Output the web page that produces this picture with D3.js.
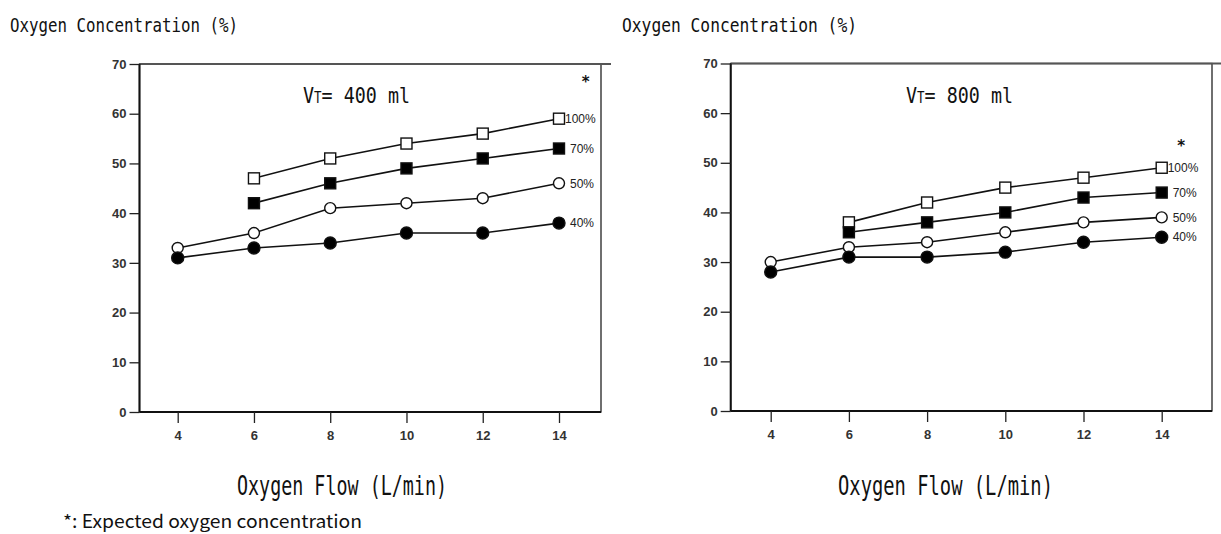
<!DOCTYPE html>
<html>
<head>
<meta charset="utf-8">
<script src="https://d3js.org/d3.v7.min.js"></script>
<style>
  body { margin: 0; background: #fff; }
  svg { display: block; }
</style>
</head>
<body>
<script>
// Chart data
var flows = [4, 6, 8, 10, 12, 14];
var fio2Labels = ["100%", "70%", "50%", "40%"];
var markerKinds = ["openSquare", "filledSquare", "openCircle", "filledCircle"];
var yTicks = [0, 10, 20, 30, 40, 50, 60, 70];

// VT = 400 ml (null = not measured)
var vt400 = [
  [null, 47, 51, 54, 56, 59],
  [null, 42, 46, 49, 51, 53],
  [33, 36, 41, 42, 43, 46],
  [31, 33, 34, 36, 36, 38]
];
// VT = 800 ml
var vt800 = [
  [null, 38, 42, 45, 47, 49],
  [null, 36, 38, 40, 43, 44],
  [30, 33, 34, 36, 38, 39],
  [28, 31, 31, 32, 34, 35]
];
// expected-concentration star marks [flow, %]
var star400 = [14.7, 67];
var star800 = [14.5, 54];

var width = 1221, height = 534;

var svg = d3.select("body").append("svg")
  .attr("width", width)
  .attr("height", height);

var monoFont = "'DejaVu Sans Mono', 'Liberation Mono', monospace";
var tickFont = "'Liberation Sans Narrow', 'Liberation Sans', Arial, sans-serif";

// text squeezed to a given width (the original uses a narrow gothic font)
function fitText(g, x, y, str, size, len, font) {
  return g.append("text")
    .attr("x", x)
    .attr("y", y)
    .attr("font-family", font)
    .attr("font-size", size)
    .attr("textLength", len)
    .attr("lengthAdjust", "spacingAndGlyphs")
    .attr("fill", "#111")
    .text(str);
}

function drawPanel(p) {
  var g = svg.append("g");

  var x = d3.scaleLinear().domain([4, 14]).range([p.x4, p.x14]);
  var y = d3.scaleLinear().domain([0, 70]).range([p.bottom, p.top]);

  // frame
  g.append("rect")
    .attr("x", p.left).attr("y", p.top)
    .attr("width", p.right - p.left).attr("height", p.bottom - p.top)
    .attr("fill", "none").attr("stroke", "#222").attr("stroke-width", 1.3);
  g.append("line")
    .attr("x1", p.left).attr("x2", p.right + 10)
    .attr("y1", p.top).attr("y2", p.top)
    .attr("stroke", "#555").attr("stroke-width", 2.2);
  g.append("line")
    .attr("x1", p.left).attr("x2", p.left)
    .attr("y1", p.top).attr("y2", p.bottom)
    .attr("stroke", "#111").attr("stroke-width", 2);
  g.append("line")
    .attr("x1", p.left).attr("x2", p.right)
    .attr("y1", p.bottom).attr("y2", p.bottom)
    .attr("stroke", "#111").attr("stroke-width", 2);

  // y axis
  var yAxis = d3.axisLeft(y).tickValues(yTicks).tickSize(10).tickPadding(3);
  var ya = g.append("g").attr("transform", "translate(" + p.left + ",0)").call(yAxis);
  ya.select(".domain").remove();
  ya.selectAll(".tick line").attr("stroke", "#222").attr("stroke-width", 1.3);
  ya.selectAll(".tick text")
    .attr("font-family", tickFont).attr("font-size", 13)
    .attr("font-weight", "bold").attr("fill", "#333");

  // x axis
  var xAxis = d3.axisBottom(x).tickValues(flows).tickSize(11).tickPadding(8);
  var xa = g.append("g").attr("transform", "translate(0," + p.bottom + ")").call(xAxis);
  xa.select(".domain").remove();
  xa.selectAll(".tick line").attr("stroke", "#222").attr("stroke-width", 1.3);
  xa.selectAll(".tick text")
    .attr("font-family", tickFont).attr("font-size", 13)
    .attr("font-weight", "bold").attr("fill", "#333");

  // series
  var line = d3.line()
    .defined(function(d) { return d.v != null; })
    .x(function(d) { return x(d.f); })
    .y(function(d) { return y(d.v); });

  p.data.forEach(function(vals, i) {
    var pts = flows.map(function(f, j) { return {f: f, v: vals[j]}; })
      .filter(function(d) { return d.v != null; });
    g.append("path")
      .datum(pts)
      .attr("d", line)
      .attr("fill", "none")
      .attr("stroke", "#111")
      .attr("stroke-width", 1.6);

    var kind = markerKinds[i];
    var filled = kind.indexOf("filled") === 0;
    var isSquare = kind.indexOf("Square") > 0;
    var m = g.selectAll(".m" + i).data(pts).enter();
    if (isSquare) {
      m.append("rect")
        .attr("x", function(d) { return x(d.f) - 5.5; })
        .attr("y", function(d) { return y(d.v) - 5.5; })
        .attr("width", 11).attr("height", 11)
        .attr("fill", filled ? "#000" : "#fff")
        .attr("stroke", "#111").attr("stroke-width", 1.4);
    } else {
      m.append("circle")
        .attr("cx", function(d) { return x(d.f); })
        .attr("cy", function(d) { return y(d.v); })
        .attr("r", filled ? 6 : 5.5)
        .attr("fill", filled ? "#000" : "#fff")
        .attr("stroke", "#111").attr("stroke-width", 1.4);
    }

    var last = pts[pts.length - 1];
    g.append("text")
      .attr("x", x(last.f) + (i === 0 ? 6 : 11))
      .attr("y", y(last.v))
      .attr("dy", "0.35em")
      .attr("font-family", tickFont)
      .attr("font-size", 12)
      .attr("fill", "#222")
      .text(fio2Labels[i]);
  });

  // expected concentration mark
  g.append("text")
    .attr("x", x(p.star[0]))
    .attr("y", y(p.star[1]))
    .attr("dy", "0.55em")
    .attr("text-anchor", "middle")
    .attr("font-family", "'DejaVu Sans', sans-serif")
    .attr("font-weight", "bold")
    .attr("font-size", 15)
    .attr("fill", "#111")
    .text("*");

  // VT label
  var vt = g.append("text")
    .attr("x", p.vtX).attr("y", 103)
    .attr("font-family", monoFont).attr("font-size", 22)
    .attr("textLength", 107).attr("lengthAdjust", "spacingAndGlyphs")
    .attr("fill", "#111");
  vt.append("tspan").text("V");
  vt.append("tspan").attr("font-size", 15).text("T");
  vt.append("tspan").text("= " + p.vt + " ml");

  // axis titles
  fitText(g, p.titleX, 32, "Oxygen Concentration (%)", 20, p.titleLen, monoFont);
  fitText(g, p.xTitleX, 495, "Oxygen Flow (L/min)", 27, p.xTitleLen, monoFont);
}

drawPanel({
  data: vt400, vt: 400, star: star400,
  left: 139.5, right: 601, top: 64, bottom: 412,
  x4: 177.7, x14: 559,
  vtX: 303, titleX: 10, titleLen: 228, xTitleX: 237, xTitleLen: 210
});
drawPanel({
  data: vt800, vt: 800, star: star800,
  left: 730.7, right: 1212, top: 63.5, bottom: 411,
  x4: 770.7, x14: 1161.7,
  vtX: 906, titleX: 622, titleLen: 235, xTitleX: 838, xTitleLen: 215
});

// footnote
fitText(svg, 63, 528, "*: Expected oxygen concentration", 18, 299,
  "'Noto Sans CJK JP', 'Noto Sans', sans-serif");
</script>
</body>
</html>
